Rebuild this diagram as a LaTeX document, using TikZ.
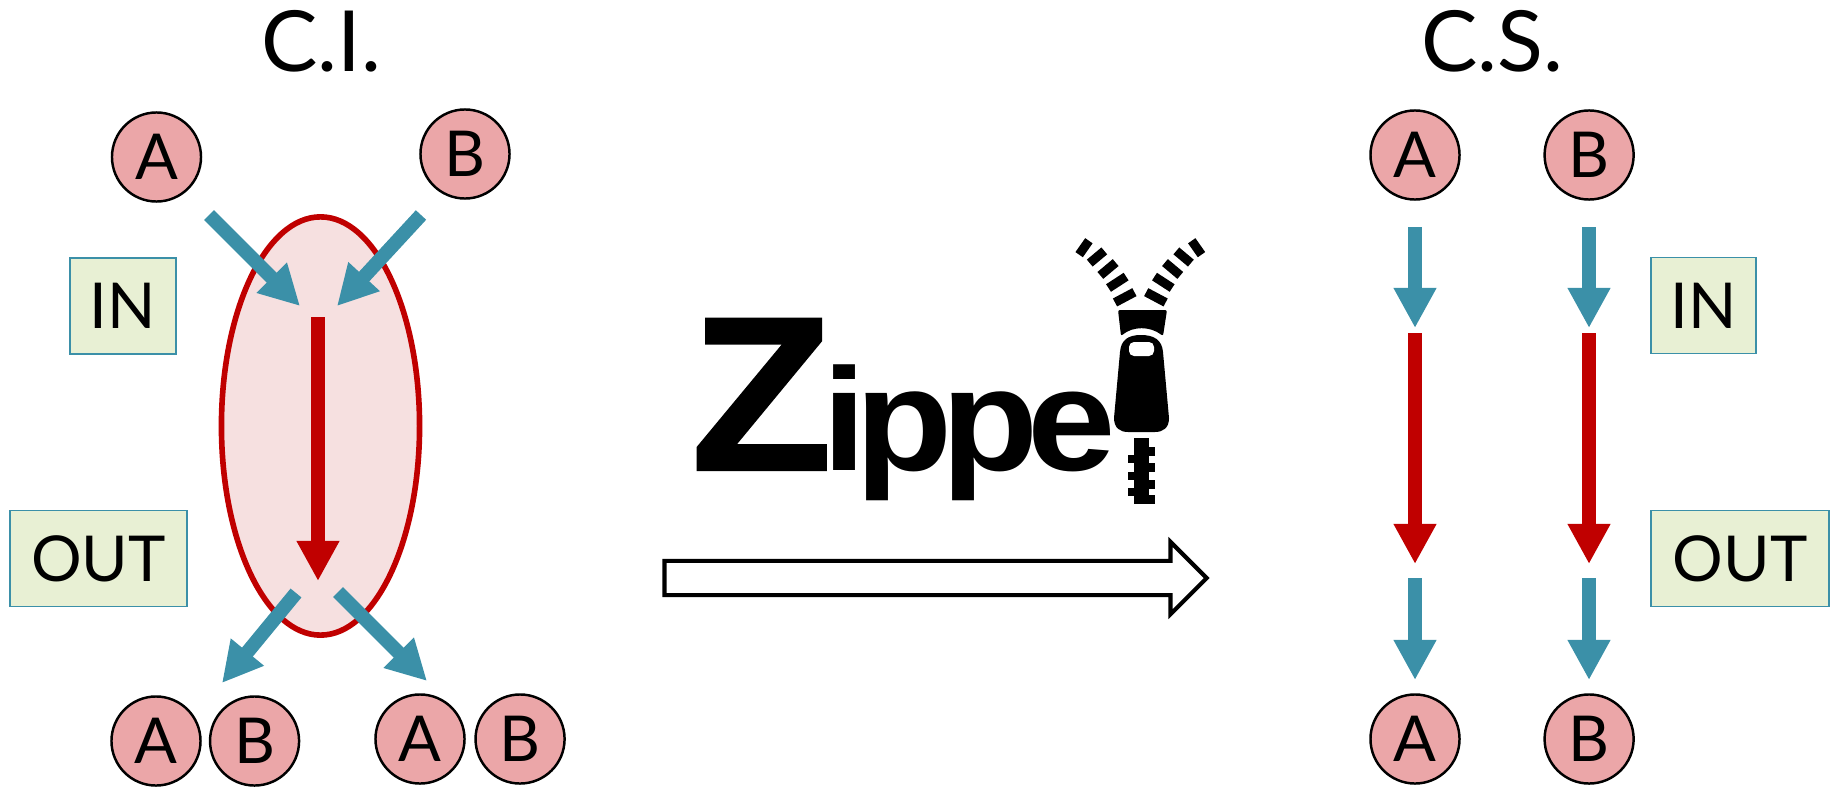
\documentclass[tikz,border=0pt]{standalone}
\usepackage{fontspec}
\setmainfont{Lato}
\newfontfamily\zipfont{Liberation Sans}
\definecolor{tealSeta}{RGB}{59,144,168}
\definecolor{vermSeta}{RGB}{192,0,0}
\definecolor{rosaBola}{RGB}{235,166,168}
\definecolor{rosaOval}{RGB}{246,224,224}
\definecolor{verdeCaixa}{RGB}{232,240,212}
\usetikzlibrary{shapes.geometric,shapes.arrows,arrows.meta,positioning}
\tikzset{
  bola/.style={circle, draw=black, line width=0.7pt, fill=rosaBola, minimum size=0.89cm,
               inner sep=0pt, outer sep=0pt, font=\fontsize{18}{20}\selectfont},
  caixa/.style={rectangle, draw=tealSeta, line width=0.5pt, fill=verdeCaixa, minimum height=0.96cm,
                inner sep=0pt, outer sep=0pt, font=\fontsize{18}{20}\selectfont},
  titulo/.style={font=\fontsize{24}{28}\selectfont, inner sep=0pt},
  seta/.style={-{Triangle[length=0.4cm,width=0.4cm]}, line width=0.14cm, tealSeta},
  setaverm/.style={-{Triangle[length=0.4cm,width=0.4cm]}, line width=0.145cm, vermSeta},
}
\begin{document}
\begin{tikzpicture}[x=0.01cm,y=-0.01cm]
  \useasboundingbox (0,0) rectangle (1831,788);

  \node[titulo] (ci) at (321,41) {C.I.};
  \node[titulo] (cs) at (1492,41) {C.S.};

  \node[ellipse, draw=vermSeta, line width=1.6pt, fill=rosaOval, minimum width=1.98cm,
        minimum height=4.18cm, inner sep=0pt] (oval) at (320.5,426) {};

  \node[bola] (topa) at (156.5,157) {A};
  \node[bola] (topb) at (465,154) {B};
  \node[caixa, minimum width=1.06cm] (inl) at (123,306) {IN};
  \node[caixa, minimum width=1.77cm] (outl) at (98.5,558.5) {OUT};

  \node[bola] (aa) at (156,741) {A};
  \node[bola, right=0.095cm of aa] (ab) {B};
  \node[bola] (ba) at (420,739) {A};
  \node[bola, right=0.11cm of ba] (bb) {B};

  \coordinate (ta1) at (209,215);
  \coordinate (ta2) at (300,306);
  \coordinate (tb1) at (421,215);
  \coordinate (tb2) at (337,306);
  \coordinate (ra1) at (318,317);
  \coordinate (ra2) at (318,581);
  \coordinate (ba1) at (296,593);
  \coordinate (ba2) at (222,683);
  \coordinate (bb1) at (338,592);
  \coordinate (bb2) at (427,681);
  \draw[seta] (ta1) -- (ta2);
  \draw[seta] (tb1) -- (tb2);
  \draw[setaverm] (ra1) -- (ra2);
  \draw[seta] (ba1) -- (ba2);
  \draw[seta] (bb1) -- (bb2);

  \node[single arrow, draw=black, line width=1.2pt, fill=white, minimum height=5.42cm,
        minimum width=0.68cm, single arrow head extend=0.19cm, inner xsep=0pt, inner ysep=0.15cm] (fat) at (927,578) {};

  \node[anchor=base west, inner sep=0pt] (zip) at (690,470)
       {\zipfont\bfseries{\fontsize{62.5}{60}\selectfont\addfontfeature{FakeStretch=1.055,FakeBold=1}Z}\kern-2.7pt\fontsize{41.5}{40}\selectfont\addfontfeature{FakeStretch=1.09}i\kern-3.3pt p\kern-3.1pt p\kern-3.3pt e};

  \foreach \px/\py/\ang/\len in {1084/247.7/55/8.5, 1097/257/40/9.5, 1108/269/40/10, 1117.3/282.3/33/10.5, 1124.7/297.3/28/11,
                                 1196.6/247.7/-55/8.5, 1183.6/257/-40/9.5, 1172.6/269/-40/10, 1163.3/282.3/-33/10.5, 1155.9/297.3/-28/11}
    \fill[black, shift={(\px,\py)}, rotate=\ang] (-\len,-4.5) rectangle (\len,4.5);
  \fill[black, rounded corners=0.02cm] (1118,310) -- (1167,310) -- (1163,336) .. controls (1150,326) and (1133,326) .. (1121,336) -- cycle;
  \fill[black] (1141,335) .. controls (1128,335) and (1121,340) .. (1120,352) -- (1114,418)
       .. controls (1114,428) and (1120,432) .. (1128,432) -- (1155,432)
       .. controls (1163,432) and (1169,428) .. (1169,418) -- (1163,352)
       .. controls (1162,340) and (1154,335) .. (1141,335) -- cycle;
  \fill[white, rounded corners=0.05cm] (1129,342) rectangle (1154,356);
  \fill[black] (1134,438) rectangle (1149,504);
  \foreach \py in {447,463,480,495}
    \fill[black] (1149,\py) rectangle (1155,\py+8.5);
  \foreach \py in {455,472,488}
    \fill[black] (1128,\py) rectangle (1134,\py+8);

  \node[bola] (ra) at (1415,155) {A};
  \node[bola, right=0.85cm of ra] (rb) {B};
  \node[bola] (sa) at (1415,739) {A};
  \node[bola, right=0.85cm of sa] (sb) {B};
  \node[caixa, minimum width=1.05cm] (inr) at (1703.5,305.5) {IN};
  \node[caixa, minimum width=1.78cm] (outr) at (1740,558.5) {OUT};

  \foreach \col/\xc in {l/1415, r/1589} {
    \coordinate (i\col1) at (\xc,227);
    \coordinate (i\col2) at (\xc,328);
    \coordinate (m\col1) at (\xc,333);
    \coordinate (m\col2) at (\xc,564);
    \coordinate (o\col1) at (\xc,578);
    \coordinate (o\col2) at (\xc,680);
    \draw[seta] (i\col1) -- (i\col2);
    \draw[setaverm] (m\col1) -- (m\col2);
    \draw[seta] (o\col1) -- (o\col2);
  }
\end{tikzpicture}
\end{document}
